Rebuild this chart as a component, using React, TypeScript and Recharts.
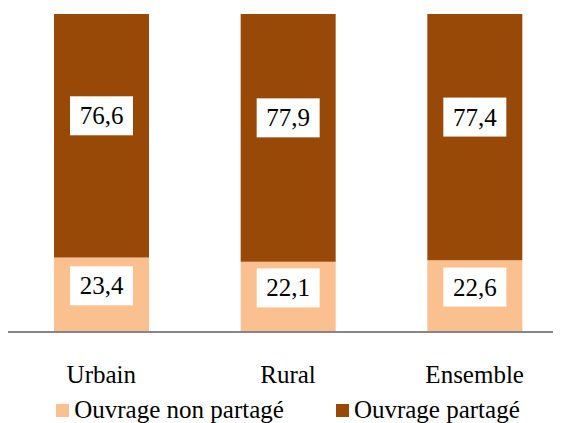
import { BarChart, Bar, XAxis, YAxis, Legend, LabelList } from "recharts";

const categories = ["Urbain", "Rural", "Ensemble"];
const nonPartage = [23.4, 22.1, 22.6];
const partage = [76.6, 77.9, 77.4];

const PEACH = "#FAC090";
const BROWN = "#984807";
const FONT = "Liberation Serif, serif";

const data = categories.map((name, i) => ({
  name,
  nonPartage: nonPartage[i],
  partage: partage[i],
}));

const fmt = (v: number) => v.toFixed(1).replace(".", ",");

// white box with the value, a bit above the segment centre like the original
const boxLabel = (offset: number) => (props: any) => {
  const { x, y, width, height, value } = props;
  const cx = x + width / 2;
  const cy = y + height / 2 + offset;
  return (
    <g>
      <rect x={cx - 31.5} y={cy - 19.5} width={63} height={39} fill="#FFFFFF" />
      <text
        x={cx}
        y={cy}
        textAnchor="middle"
        dominantBaseline="central"
        style={{ fontFamily: FONT }}
        fontSize={25}
        fill="#000000"
      >
        {fmt(value)}
      </text>
    </g>
  );
};

const CategoryTick = (props: any) => {
  const { x, y, payload } = props;
  return (
    <text x={x} y={y + 51} textAnchor="middle" style={{ fontFamily: FONT }} fontSize={25} fill="#000000">
      {payload.value}
    </text>
  );
};

const legendItems = [
  { label: "Ouvrage non partagé", color: PEACH },
  { label: "Ouvrage partagé", color: BROWN },
];

const LegendContent = () => (
  <div
    style={{
      display: "flex",
      justifyContent: "center",
      alignItems: "center",
      gap: 52,
      fontFamily: FONT,
      fontSize: 25,
      lineHeight: "30px",
      color: "#000",
      paddingTop: 8,
    }}
  >
    {legendItems.map((item) => (
      <div key={item.label} style={{ display: "flex", alignItems: "center" }}>
        <span style={{ width: 13, height: 13, background: item.color, marginRight: 5, display: "inline-block" }} />
        <span>{item.label}</span>
      </div>
    ))}
  </div>
);

export default function App() {
  return (
    <div style={{ width: 553, height: 415, overflow: "hidden" }}>
      <BarChart
        width={560}
        height={415}
        data={data}
        margin={{ top: 6, right: 0, left: 0, bottom: 0 }}
      >
        <XAxis
          dataKey="name"
          axisLine={{ stroke: "#868686", strokeWidth: 2 }}
          tickLine={false}
          tickSize={0}
          tickMargin={0}
          height={55}
          tick={<CategoryTick />}
          interval={0}
        />
        <YAxis hide domain={[0, 100]} />
        <Legend verticalAlign="bottom" height={36} content={<LegendContent />} />
        <Bar dataKey="nonPartage" stackId="a" fill={PEACH} barSize={95} isAnimationActive={false}>
          <LabelList dataKey="nonPartage" content={boxLabel(-9)} />
        </Bar>
        <Bar dataKey="partage" stackId="a" fill={BROWN} barSize={95} isAnimationActive={false}>
          <LabelList dataKey="partage" content={boxLabel(-20)} />
        </Bar>
      </BarChart>
    </div>
  );
}
